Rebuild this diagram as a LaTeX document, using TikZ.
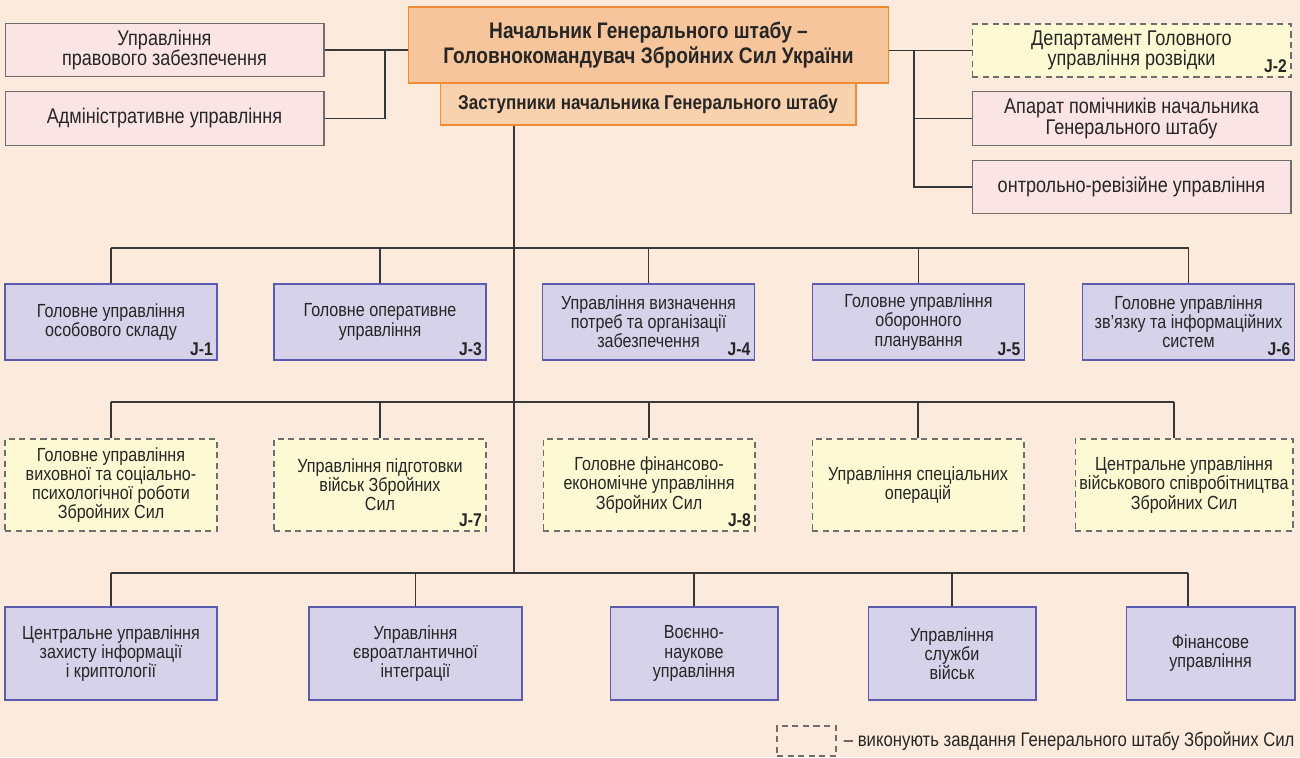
\documentclass[tikz,border=0pt]{standalone}
\usepackage{fontspec}
\setmainfont{Liberation Sans}[FakeStretch=0.85]
\usepackage{tikz}

\definecolor{bgpeach}{HTML}{FCEBDC}
\definecolor{pinkfill}{HTML}{FBE4E4}
\definecolor{bluefill}{HTML}{D6D2EA}
\definecolor{blueline}{HTML}{5A5AAE}
\definecolor{yellowfill}{HTML}{FDF9D3}
\definecolor{grayline}{HTML}{6E6E6E}
\definecolor{chieffill}{HTML}{F6C59C}
\definecolor{deputyfill}{HTML}{F8D1AE}
\definecolor{chiefline}{HTML}{EE8B33}
\definecolor{ink}{HTML}{262626}
\definecolor{linecol}{HTML}{383838}

\begin{document}
\begin{tikzpicture}[x=0.02cm, y=-0.02cm,
    every node/.style={text=ink},
    box/.style={align=center, inner sep=2pt, line width=0.6pt, font=\fontsize{10.8}{10.9}\selectfont},
    sidefont/.style={font=\fontsize{12.1}{11.6}\selectfont},
    legalbox/.style={box, sidefont, draw=grayline, fill=pinkfill, minimum width=6.38cm, minimum height=1.07cm},
    unitbox/.style={box, draw=blueline, fill=bluefill},
    taskbox/.style={box, draw=grayline, fill=yellowfill, dash pattern=on 3.5pt off 2.5pt},
    jtag/.style={anchor=south east, inner sep=2.5pt, font=\bfseries\fontsize{10.5}{10.5}\selectfont},
    link/.style={draw=linecol, line width=0.65pt}]

        % Background and page size
        \fill[bgpeach] (0,0) rectangle (1300,757);
        \useasboundingbox (0,0) rectangle (1300,757);

        % Chief and deputies
        \node[box, draw=chiefline, fill=deputyfill, minimum width=8.32cm, minimum height=0.84cm,
              font=\bfseries\fontsize{11.4}{12}\selectfont] (deputies) at (648,104) {Заступники начальника Генерального штабу};
        \node[box, draw=chiefline, fill=chieffill, minimum width=9.62cm, minimum height=1.52cm,
              font=\bfseries\fontsize{12.8}{14.5}\selectfont] (chief) at (648.5,45) {Начальник Генерального штабу –\\Головнокомандувач Збройних Сил України};

        % Left side
        \node[legalbox] (legal) at (164.5,50) {Управління\\правового забезпечення};
        \node[legalbox] (admin) at (164.5,118.5) {Адміністративне управління};

        % Right side
        \node[taskbox, sidefont, minimum width=6.38cm, minimum height=1.06cm] (intel) at (1131.5,50.5) {Департамент Головного\\управління розвідки};
        \node[jtag] (j2) at (intel.south east) {J-2};
        \node[legalbox] (aides) at (1131.5,118.5) {Апарат помічників начальника\\Генерального штабу};
        \node[legalbox] (audit) at (1131.5,187) {онтрольно-ревізійне управління};

        % First row
        \begin{scope}[every node/.append style={unitbox, minimum width=4.24cm, minimum height=1.52cm}]
            \node (r1a) at (111,322) {Головне управління\\особового складу};
            \node (r1b) at (380,322) {Головне оперативне\\управління};
            \node (r1c) at (648.5,322) {Управління визначення\\потреб та організації\\забезпечення};
            \node (r1d) at (918.5,322) {Головне управління\\оборонного\\планування};
            \node (r1e) at (1188.5,322) {Головне управління\\зв'язку та інформаційних\\систем};
        \end{scope}
        \node[jtag] (j1) at (r1a.south east) {J-1};
        \node[jtag] (j3) at (r1b.south east) {J-3};
        \node[jtag] (j4) at (r1c.south east) {J-4};
        \node[jtag] (j5) at (r1d.south east) {J-5};
        \node[jtag] (j6) at (r1e.south east) {J-6};

        % Second row
        \begin{scope}[every node/.append style={taskbox, minimum width=4.24cm, minimum height=1.84cm}]
            \node (r2a) at (111,485) {Головне управління\\виховної та соціально-\\психологічної роботи\\Збройних Сил};
            \node (r2b) at (380,485) {Управління підготовки\\військ Збройних\\Сил};
            \node (r2c) at (649,485) {Головне фінансово-\\економічне управління\\Збройних Сил};
            \node (r2d) at (918,485) {Управління спеціальних\\операцій};
            \node[minimum width=4.36cm] (r2e) at (1184,485) {Центральне управління\\військового співробітництва\\Збройних Сил};
        \end{scope}
        \node[jtag] (j7) at (r2b.south east) {J-7};
        \node[jtag] (j8) at (r2c.south east) {J-8};

        % Third row
        \begin{scope}[every node/.append style={unitbox, minimum height=1.86cm}]
            \node[minimum width=4.24cm] (r3a) at (111,653.5) {Центральне управління\\захисту інформації\\і криптології};
            \node[minimum width=4.26cm] (r3b) at (415.5,653.5) {Управління\\євроатлантичної\\інтеграції};
            \node[minimum width=3.36cm] (r3c) at (694,653.5) {Воєнно-\\наукове\\управління};
            \node[minimum width=3.36cm] (r3d) at (952,653.5) {Управління\\служби\\військ};
            \node[minimum width=3.38cm] (r3e) at (1210.5,653.5) {Фінансове\\управління};
        \end{scope}

        % Legend
        \node[taskbox, fill=none, minimum width=1.18cm, minimum height=0.6cm] (legend) at (806.5,741) {};
        \node[anchor=west, inner sep=0pt, font=\fontsize{11.2}{12}\selectfont] (legendtext) at ([xshift=4pt]legend.east) {– виконують завдання Генерального штабу Збройних Сил};

        % Connectors
        \coordinate (lbus) at (385,50);
        \coordinate (rbus) at (914,50.5);
        \coordinate (bus1) at (514,248);
        \coordinate (bus2) at (514,402);
        \coordinate (bus3) at (514,573);
        \coordinate (r2top) at ([xshift=-0.2cm]r2e.north);
        \coordinate (r3top) at ([xshift=-0.45cm]r3e.north);

        \draw[link] (legal.east) -- (legal.east -| chief.west);
        \draw[link] (admin.east) -| (lbus);
        \draw[link] (intel.west) -- (intel.west -| chief.east);
        \draw[link] (aides.west) -- (aides.west -| rbus);
        \draw[link] (audit.west) -| (rbus);

        \draw[link] (deputies.south -| bus3) -- (bus3);
        \draw[link] (r1a.north |- bus1) -- (r1e.north |- bus1);
        \draw[link] (r2a.north |- bus2) -- (r2top |- bus2);
        \draw[link] (r3a.north |- bus3) -- (r3top |- bus3);
        \foreach \b in {a,b,c,d,e}
            \draw[link] (r1\b.north) -- (r1\b.north |- bus1);
        \foreach \b in {a,b,c,d}
            \draw[link] (r2\b.north) -- (r2\b.north |- bus2);
        \draw[link] (r2top) -- (r2top |- bus2);
        \foreach \b in {a,b,c,d}
            \draw[link] (r3\b.north) -- (r3\b.north |- bus3);
        \draw[link] (r3top) -- (r3top |- bus3);
    \end{tikzpicture}
\end{document}
